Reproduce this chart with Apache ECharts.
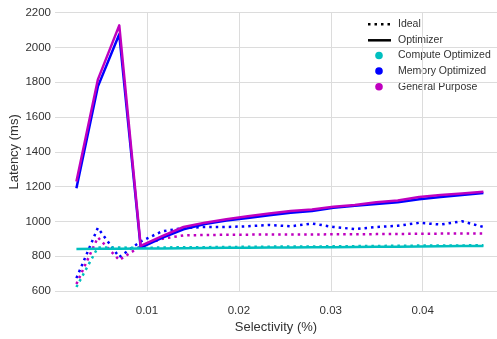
<!DOCTYPE html>
<html>
<head>
<meta charset="utf-8">
<script src="https://cdn.jsdelivr.net/npm/echarts@6/dist/echarts.min.js"></script>
<style>
html,body{margin:0;padding:0;background:#fff;}
#chart{width:497px;height:339px;}
</style>
</head>
<body>
<div id="chart"></div>
<script>
// ---- data ----
var selectivity = [0.00233, 0.00466, 0.00699, 0.00932, 0.01165, 0.01398, 0.01631, 0.01864, 0.02097, 0.0233,
                   0.02563, 0.02796, 0.03029, 0.03262, 0.03495, 0.03728, 0.03961, 0.04194, 0.04427, 0.0466];
var computeIdeal = [623, 850, 850, 848, 850, 852, 852, 853, 854, 855, 856, 856, 857, 858, 859, 860, 861, 862, 862, 863];
var computeOpt   = [842, 843, 843, 844, 845, 846, 847, 848, 849, 850, 850, 851, 852, 853, 854, 855, 856, 857, 858, 858];
var memoryIdeal  = [674, 963, 795, 885, 943, 962, 968, 968, 972, 980, 972, 988, 968, 956, 968, 975, 992, 982, 1001, 968];
var memoryOpt    = [1191, 1775, 2076, 850, 905, 955, 985, 1005, 1020, 1035, 1050, 1060, 1078, 1090, 1100, 1110, 1128, 1140, 1152, 1163];
var generalIdeal = [640, 908, 778, 858, 900, 920, 922, 923, 924, 925, 925, 925, 926, 926, 927, 928, 929, 930, 931, 931];
var generalOpt   = [1229, 1815, 2127, 860, 915, 968, 993, 1012, 1030, 1045, 1060, 1068, 1085, 1095, 1110, 1120, 1140, 1152, 1160, 1170];
var yTicks = [600, 800, 1000, 1200, 1400, 1600, 1800, 2000, 2200];
var xTicks = [0.01, 0.02, 0.03, 0.04];
var legendNames = ['Ideal', 'Optimizer', 'Compute Optimized', 'Memory Optimized', 'General Purpose'];

var COLORS = {compute: '#00BFBF', memory: '#0000FF', general: '#BF00BF'};
var FONT = 'Liberation Sans, Arial, sans-serif';
var TXT = '#333333';

function pairs(ys) { return selectivity.map(function (x, i) { return [x, ys[i]]; }); }

function lineSeries(name, ys, color, dotted, z) {
  return {
    name: name, type: 'line', data: pairs(ys), showSymbol: false, symbol: 'none',
    animation: false, z: z, silent: true,
    lineStyle: {color: color, width: 2.5, type: dotted ? [2.5, 4] : 'solid', cap: 'butt', join: 'round'}
  };
}

var chart = echarts.init(document.getElementById('chart'), null, {renderer: 'canvas'});

var lx0 = 368, lx1 = 391, ltx = 398;
var ly = [24.3, 40.3, 55.5, 71, 86.7];
var graphics = [
  {type: 'line', shape: {x1: lx0, y1: ly[0], x2: lx1, y2: ly[0]}, style: {stroke: '#000', lineWidth: 2.5, lineDash: [2.5, 4], lineCap: 'butt'}},
  {type: 'line', shape: {x1: lx0, y1: ly[1], x2: lx1, y2: ly[1]}, style: {stroke: '#000', lineWidth: 2.5}},
  {type: 'circle', shape: {cx: 379, cy: ly[2], r: 3.8}, style: {fill: COLORS.compute}},
  {type: 'circle', shape: {cx: 379, cy: ly[3], r: 3.8}, style: {fill: COLORS.memory}},
  {type: 'circle', shape: {cx: 379, cy: ly[4], r: 3.8}, style: {fill: COLORS.general}}
];
legendNames.forEach(function (n, i) {
  graphics.push({type: 'text', x: ltx, y: ly[i],
    style: {text: n, fill: TXT, font: '10.5px ' + FONT, textVerticalAlign: 'middle', textAlign: 'left'}});
});

chart.setOption({
  animation: false,
  backgroundColor: '#ffffff',
  grid: {left: 55, right: 0, top: 12.7, bottom: 48, containLabel: false, outerBoundsMode: 'none'},
  xAxis: {
    type: 'value', min: 0, max: 0.04808, interval: 0.01,
    name: 'Selectivity (%)', nameLocation: 'middle', nameGap: 29.5, nameMoveOverlap: false,
    nameTextStyle: {color: TXT, fontSize: 13, fontFamily: FONT},
    axisLine: {show: false}, axisTick: {show: false},
    axisLabel: {
      color: TXT, fontSize: 11.5, fontFamily: FONT, margin: 14,
      showMinLabel: false, showMaxLabel: false,
      formatter: function (v) {
        for (var i = 0; i < xTicks.length; i++) { if (Math.abs(v - xTicks[i]) < 1e-9) return String(xTicks[i]); }
        return '';
      }
    },
    splitLine: {show: true, showMinLine: false, showMaxLine: false, lineStyle: {color: '#dcdcdc', width: 1}}
  },
  yAxis: {
    type: 'value', min: yTicks[0], max: yTicks[yTicks.length - 1], interval: 200,
    name: 'Latency (ms)', nameLocation: 'middle', nameGap: 34, nameMoveOverlap: false,
    nameTextStyle: {color: TXT, fontSize: 13, fontFamily: FONT},
    axisLine: {show: false}, axisTick: {show: false},
    axisLabel: {color: TXT, fontSize: 11.5, fontFamily: FONT, margin: 4,
      formatter: function (v) { return String(v); }},
    splitLine: {show: true, lineStyle: {color: '#dcdcdc', width: 1}}
  },
  series: [
    lineSeries('Memory Ideal', memoryIdeal, COLORS.memory, true, 2),
    lineSeries('General Ideal', generalIdeal, COLORS.general, true, 3),
    lineSeries('Compute Ideal', computeIdeal, COLORS.compute, true, 4),
    lineSeries('Memory Optimizer', memoryOpt, COLORS.memory, false, 5),
    lineSeries('General Optimizer', generalOpt, COLORS.general, false, 6),
    lineSeries('Compute Optimizer', computeOpt, COLORS.compute, false, 7)
  ],
  graphic: graphics
});
</script>
</body>
</html>
